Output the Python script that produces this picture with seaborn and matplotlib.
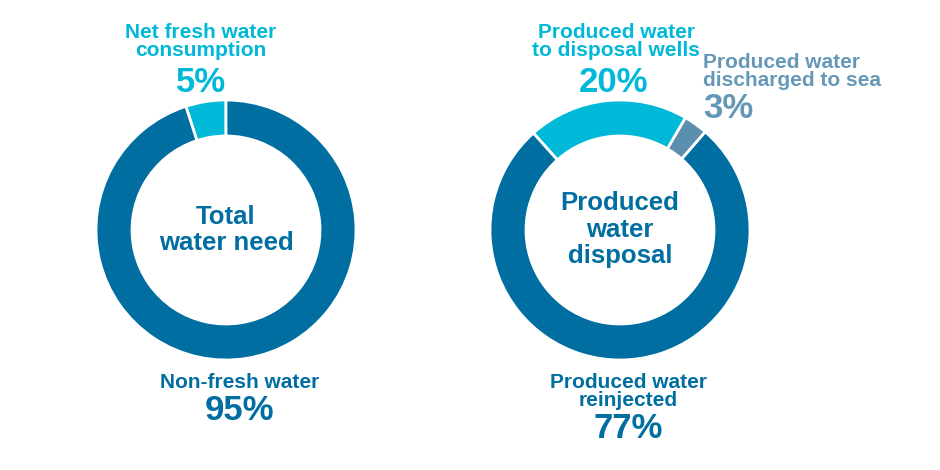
import matplotlib
matplotlib.use("Agg")
import matplotlib.pyplot as plt
import seaborn as sns
import numpy as np

# ---- data ----
left_labels = ["Net fresh water consumption", "Non-fresh water"]
left_values = [5, 95]
left_title = ["Total", "water need"]

right_labels = ["Produced water discharged to sea", "Produced water to disposal wells",
                "Produced water reinjected"]
right_values = [3, 20, 77]
right_title = ["Produced", "water", "disposal"]

# ---- style ----
sns.set_theme(style="white")
plt.rcParams['font.family'] = ['Liberation Sans', 'DejaVu Sans']

DARK = "#006ea0"
CYAN = "#00b8d8"
GREY = "#5b8fad"
GREY_TXT = "#6598b6"

W, H = 940, 470
fig = plt.figure(figsize=(9.4, 4.7), dpi=100)
ax = fig.add_axes([0, 0, 1, 1])
ax.set_xlim(0, W)
ax.set_ylim(0, H)
ax.set_aspect("equal")
ax.axis("off")

R_OUT = 130
RING = 36
wp = dict(width=RING, edgecolor="white", linewidth=2)

def Y(y):
    return H - y

# left donut
ax.pie(left_values, colors=[CYAN, DARK], startangle=90, counterclock=True,
       center=(226, Y(230)), radius=R_OUT, wedgeprops=wp, frame=True)
# right donut
ax.pie(right_values, colors=[GREY, CYAN, DARK], startangle=49, counterclock=True,
       center=(620, Y(230)), radius=R_OUT, wedgeprops=wp, frame=True)
ax.set_xlim(0, W)
ax.set_ylim(0, H)
ax.axis("off")

LBL = 15
PCT = 25
CEN = 18.5

def txt(x, y, s, size, color, ha="center"):
    ax.text(x, Y(y), s, fontsize=size, fontweight="bold", color=color,
            ha=ha, va="center")

# left labels
txt(201, 32, "Net fresh water", LBL, CYAN)
txt(201, 50, "consumption", LBL, CYAN)
txt(201, 82, f"{left_values[0]}%", PCT, CYAN)
txt(240, 382, left_labels[1], LBL, DARK)
txt(240, 410, f"{left_values[1]}%", PCT, DARK)
txt(226, 217, left_title[0], CEN, DARK)
txt(226, 243, left_title[1], CEN, DARK)

# right labels
txt(616, 32, "Produced water", LBL, CYAN)
txt(616, 50, "to disposal wells", LBL, CYAN)
txt(614, 82, f"{right_values[1]}%", PCT, CYAN)
txt(703, 62, "Produced water", LBL, GREY_TXT, ha="left")
txt(703, 80, "discharged to sea", LBL, GREY_TXT, ha="left")
txt(703, 108, f"{right_values[0]}%", PCT, GREY_TXT, ha="left")
txt(628, 382, "Produced water", LBL, DARK)
txt(628, 400, "reinjected", LBL, DARK)
txt(628, 428, f"{right_values[2]}%", PCT, DARK)
txt(620, 203, right_title[0], CEN, DARK)
txt(620, 230, right_title[1], CEN, DARK)
txt(620, 256, right_title[2], CEN, DARK)

fig.savefig("out.png", dpi=100, facecolor="white")
